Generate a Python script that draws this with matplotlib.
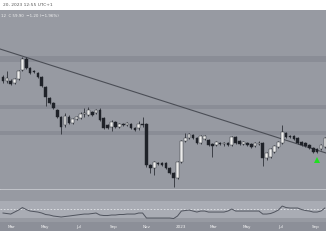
import matplotlib
matplotlib.use('Agg')
import matplotlib.pyplot as plt
import matplotlib.dates as mdates
import pandas as pd

# ---- data (weekly candles, arbitrary price units) ----
start_week = '2022-02-14'
opens  = [123,119,119,117,121,130,141,132,129,127,123,113,102,97,90,83,75,83,77,81,
          82,86,85,88,87,90,82,75,73,78,73,76,75,76,72,72,76,76,35,32,
          37,37,37,32,27,22,38,59,62,65,62,57,61,60,56,55,57,56,57,55,
          63,59,56,57,56,54,56,57,42,43,48,53,57,67,64,64,62,58,57,55,
          52,51,51,53]
highs  = [125,129,121,122,130,143,143,133,130,128,124,114,103,98,91,84,87,85,82,84,
          88,92,93,89,91,92,83,76,80,79,77,77,78,77,73,79,83,77,36,39,
          38,38,38,33,28,39,60,67,67,66,63,65,65,61,57,59,58,58,58,64,
          64,60,59,58,57,58,59,58,48,52,55,59,75,68,65,65,63,59,58,56,
          53,52,56,63]
lows   = [117,117,115,116,120,129,131,126,127,122,113,94,96,91,82,66,73,76,76,80,
          81,83,84,84,86,79,71,71,69,72,72,74,74,71,69,70,73,33,27,25,
          35,34,31,26,13,21,37,58,61,61,56,56,60,54,43,54,55,54,54,54,
          56,55,55,54,52,53,55,34,40,42,47,52,56,62,62,60,56,54,53,51,
          47,47,50,52]
closes = [119,122,116,121,129,141,132,127,128,123,114,103,97,92,83,73,84,77,81,83,
          86,87,90,85,90,80,72,72,78,73,76,75,77,72,70,76,75,35,32,38,
          36,35,32,27,22,38,59,62,66,62,57,64,64,55,54,58,56,57,55,63,
          57,56,58,55,53,57,57,42,47,51,54,58,68,63,63,61,57,55,54,52,
          48,48,55,62]
rsi    = [40.6,39.4,38.2,42.9,47.6,53.5,48.8,45.3,44.1,42.9,40.6,37.1,35.9,33.5,32.4,31.2,32.4,33.5,34.7,35.9,
          37.1,38.2,38.2,39.4,40.6,35.9,34.7,34.7,35.9,35.9,37.1,37.1,38.2,38.2,38.2,40.6,40.6,28.8,28.8,28.8,
          28.8,28.8,28.8,28.8,27.6,33.5,45.3,46.5,47.6,45.3,42.9,45.3,45.3,42.9,42.9,42.9,42.9,42.9,45.3,50.0,
          45.3,45.3,45.3,45.3,45.3,45.3,45.3,38.2,38.2,39.4,42.9,47.6,57.1,53.5,52.4,52.4,52.4,48.8,46.5,45.3,
          42.9,42.9,45.3,52.4]
zones = [(138, 144), (91, 95), (65, 69)]           # horizontal S/R zones
trend_values = [151, 47]                            # trendline at left / right edge
signal_week = 81                                    # green arrow candle index
signal_value = 40
month_ticks = ['2022-03-01','2022-05-01','2022-07-01','2022-09-01','2022-11-01',
               '2023-01-01','2023-03-01','2023-05-01','2023-07-01','2023-09-01']
month_labels = ['Mar','May','Jul','Sep','Nov','2023','Mar','May','Jul','Sep']
header_text = '20, 2023 12:55 UTC+1'
legend_text = '12  C 59.90  \u22121.20 (\u22121.96%)'

# ---- styling ----
BG = '#979aa2'
ZONE = '#8a8d96'
RSI_BAND = '#a9acb4'
AXIS = '#8c8f98'
UP = '#ececec'
DOWN = '#1f2229'
WICK = '#2e3138'

W, H = 326, 245
fig = plt.figure(figsize=(W/100, H/100), dpi=100)
fig.patch.set_facecolor('white')

def add_ax(y0, y1):
    a = fig.add_axes([0, 1 - y1/H, 1, (y1 - y0)/H])
    for s in a.spines.values():
        s.set_visible(False)
    a.set_xticks([]); a.set_yticks([])
    return a

dates = pd.date_range(start_week, periods=len(opens), freq='7D')
xd = mdates.date2num(dates)
xl = xd[0] - 5.4
xr = xl + 326/0.554

# main panel
ax = add_ax(10, 189)
ax.set_facecolor(BG)
ax.set_xlim(xl, xr)
ax.set_ylim(11, 190)
for lo, hi in zones:
    ax.axhspan(lo, hi, color=ZONE, lw=0, zorder=1)
ax.plot([xl, xr], trend_values, color='#4b4e56', lw=0.8, zorder=2)
ax.vlines(xd, lows, highs, color=WICK, lw=0.6, zorder=3)
bottoms = [min(o, c) for o, c in zip(opens, closes)]
heights = [max(abs(c - o), 0.7) for o, c in zip(opens, closes)]
colors = [UP if c >= o else DOWN for o, c in zip(opens, closes)]
ax.bar(xd, heights, bottom=bottoms, width=4.8, color=colors,
       edgecolor=DOWN, linewidth=0.3, zorder=4)
ax.plot([xd[signal_week]], [signal_value], marker='^', color='#1fe01f',
        markersize=4.5, markeredgewidth=0, zorder=5)
fig.text(1/W, 1 - 16/H, legend_text, fontsize=2.9, color='#f2f2f2',
         va='center', ha='left')

# header
fig.text(3/W, 1 - 5/H, header_text, fontsize=3.2, color='#555',
         va='center', ha='left')

# separator
fig.add_artist(plt.Line2D([0, 1], [1 - 189.5/H]*2, color='#b3b6bd', lw=0.6))

# RSI panel
ar = add_ax(190, 222)
ar.set_facecolor(BG)
ar.set_xlim(xl, xr)
ar.set_ylim(19.4, 95)
ar.axhspan(30, 70, color=RSI_BAND, lw=0)
ar.axhline(50, color='#e4e6ea', lw=0.6, ls=(0, (2, 2)))
ar.plot(xd, rsi, color='#50545e', lw=0.7)

# time axis
at = add_ax(222, 231)
at.set_facecolor(AXIS)
at.set_xlim(xl, xr)
at.set_ylim(0, 1)
for d, lab in zip(month_ticks, month_labels):
    at.text(mdates.datestr2num(d), 0.5, lab, fontsize=3.0, color='#f4f4f4',
            ha='center', va='center')

fig.savefig('out.png', dpi=100, facecolor='white')
